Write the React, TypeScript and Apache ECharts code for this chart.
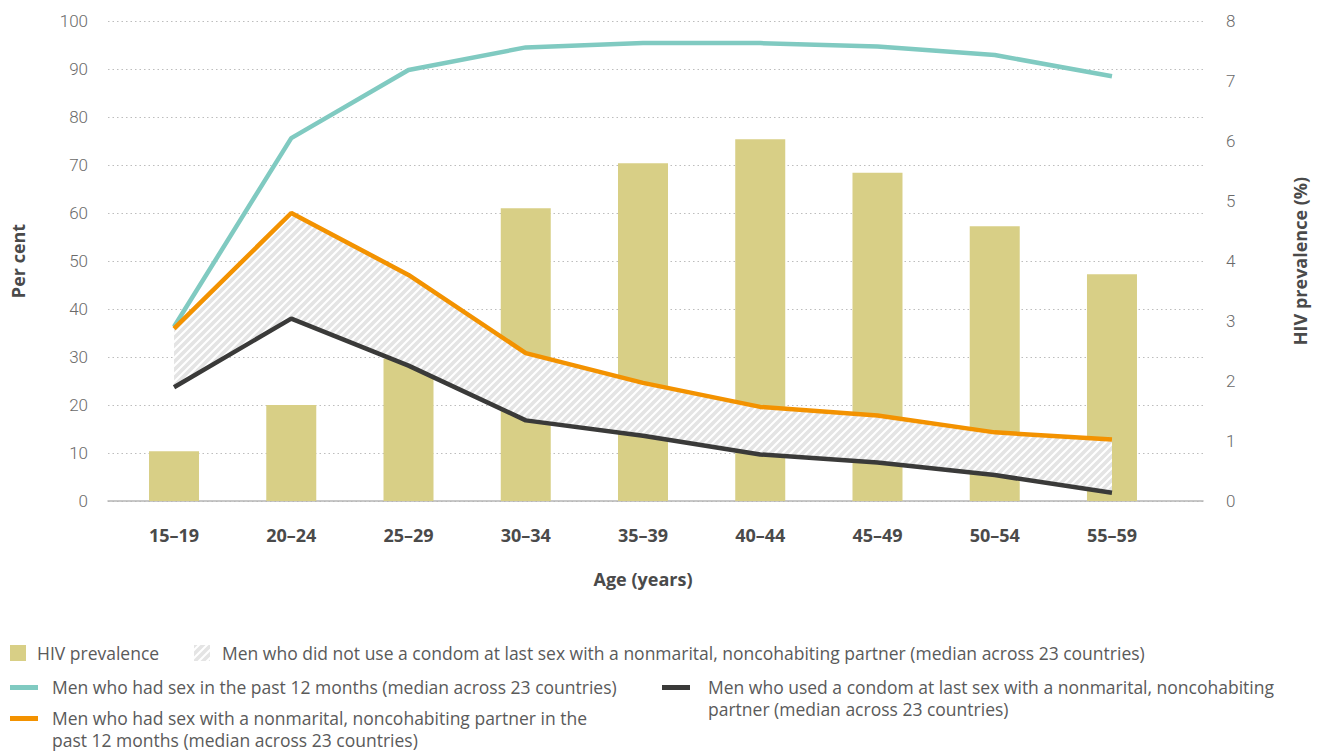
import React, { useEffect, useRef } from "react";
import * as echarts from "echarts";

const categories = ["15–19", "20–24", "25–29", "30–34", "35–39", "40–44", "45–49", "50–54", "55–59"];
const hivPrevalence = [0.83, 1.6, 2.37, 4.88, 5.63, 6.03, 5.47, 4.58, 3.78];
const hadSex = [36.3, 75.6, 89.8, 94.5, 95.4, 95.4, 94.7, 92.9, 88.5];
const hadNonmarital = [35.9, 60.0, 47.1, 30.8, 24.6, 19.6, 17.8, 14.3, 12.8];
const usedCondom = [23.7, 38.0, 28.2, 16.8, 13.6, 9.7, 8.0, 5.4, 1.7];
const leftTicks = [0, 100, 10];
const rightTicks = [0, 8, 1];

const FONT = "Roboto, 'Noto Sans', sans-serif";
const LFONT = "'Open Sans', Roboto, sans-serif";
const TEAL = "#80cac1";
const ORANGE = "#f39200";
const DARK = "#3a3a39";
const BAR = "#d8cf86";
const TXT = "#5a5a5a";
const TITLE = { fontSize: 18, fontWeight: "bold", color: "#4a4a4a", fontFamily: LFONT };

function makeHatch() {
  const c = document.createElement("canvas");
  c.width = 8;
  c.height = 8;
  const ctx = c.getContext("2d")!;
  ctx.fillStyle = "#ffffff";
  ctx.fillRect(0, 0, 8, 8);
  ctx.strokeStyle = "#e4e4e4";
  ctx.lineWidth = 3.6;
  ctx.lineCap = "square";
  for (const o of [-8, 0, 8]) {
    ctx.beginPath();
    ctx.moveTo(o, 8);
    ctx.lineTo(o + 8, 0);
    ctx.stroke();
  }
  return c;
}

export default function App() {
  const ref = useRef<HTMLDivElement>(null);
  useEffect(() => {
    if (!ref.current) return;
    const chart = echarts.init(ref.current, null, { renderer: "svg" });
    const hatch = { image: makeHatch(), repeat: "repeat" } as any;
    const bandDiff = hadNonmarital.map((v, i) => +(v - usedCondom[i]).toFixed(2));
    const legendFont = { fontFamily: LFONT, fontSize: 17.5, fill: TXT };

    const option: any = {
      animation: false,
      backgroundColor: "#ffffff",
      textStyle: { fontFamily: FONT },
      grid: [
        { left: 108, right: 117, top: 21, bottom: 250 },
        { left: 115.4, right: 149.4, top: 21, bottom: 250 },
      ],
      xAxis: [
        {
          type: "category",
          gridIndex: 0,
          data: categories,
          axisLine: { show: true, lineStyle: { color: "#b5b5b5", width: 1.5 } },
          axisTick: { show: false },
          axisLabel: { show: false },
          splitLine: { show: false },
        },
        {
          type: "category",
          gridIndex: 1,
          data: categories,
          axisLine: { show: false },
          axisTick: { show: false },
          axisLabel: { margin: 25, ...TITLE },
          name: "Age (years)",
          nameLocation: "middle",
          nameGap: 69,
          nameTextStyle: TITLE,
        },
      ],
      yAxis: [
        {
          type: "value",
          gridIndex: 0,
          position: "left",
          min: leftTicks[0],
          max: leftTicks[1],
          interval: leftTicks[2],
          axisLine: { show: false },
          axisTick: { show: false },
          axisLabel: { margin: 20, fontSize: 17, color: "#6a6a6a", fontFamily: FONT, fontWeight: 300 },
          splitLine: { show: true, lineStyle: { color: "#bdbdbd", type: [1.5, 3], width: 1 } },
          name: "Per cent",
          nameLocation: "middle",
          nameGap: 81,
          nameRotate: 90,
          nameTextStyle: TITLE,
        },
        {
          type: "value",
          gridIndex: 0,
          position: "right",
          min: rightTicks[0],
          max: rightTicks[1],
          interval: rightTicks[2],
          axisLine: { show: false },
          axisTick: { show: false },
          axisLabel: { margin: 23, fontSize: 17, color: "#6a6a6a", fontFamily: FONT, fontWeight: 300 },
          splitLine: { show: false },
          name: "HIV prevalence (%)",
          nameLocation: "middle",
          nameGap: 88,
          nameRotate: 90,
          nameTextStyle: TITLE,
        },
        {
          type: "value",
          gridIndex: 1,
          min: leftTicks[0],
          max: leftTicks[1],
          interval: leftTicks[2],
          show: false,
          splitLine: { show: false },
        },
        {
          type: "value",
          gridIndex: 1,
          min: rightTicks[0],
          max: rightTicks[1],
          interval: rightTicks[2],
          show: false,
          splitLine: { show: false },
        },
      ],
      series: [
        {
          name: "HIV prevalence",
          type: "bar",
          xAxisIndex: 1,
          yAxisIndex: 3,
          data: hivPrevalence,
          barWidth: 50,
          itemStyle: { color: BAR },
          z: 1,
        },
        {
          name: "base",
          type: "line",
          xAxisIndex: 1,
          yAxisIndex: 2,
          stack: "band",
          data: usedCondom,
          symbol: "none",
          lineStyle: { width: 0, opacity: 0 },
          silent: true,
          z: 2,
        },
        {
          name: "Men who did not use a condom at last sex with a nonmarital, noncohabiting partner (median across 23 countries)",
          type: "line",
          xAxisIndex: 1,
          yAxisIndex: 2,
          stack: "band",
          data: bandDiff,
          symbol: "none",
          lineStyle: { width: 0, opacity: 0 },
          areaStyle: { color: hatch, opacity: 1 },
          itemStyle: { color: hatch },
          silent: true,
          z: 2,
        },
        {
          name: "Men who had sex in the past 12 months (median across 23 countries)",
          type: "line",
          xAxisIndex: 1,
          yAxisIndex: 2,
          data: hadSex,
          symbol: "none",
          lineStyle: { color: TEAL, width: 4.5 },
          itemStyle: { color: TEAL },
          z: 3,
        },
        {
          name: "Men who had sex with a nonmarital, noncohabiting partner in the past 12 months (median across 23 countries)",
          type: "line",
          xAxisIndex: 1,
          yAxisIndex: 2,
          data: hadNonmarital,
          symbol: "none",
          lineStyle: { color: ORANGE, width: 4.5 },
          itemStyle: { color: ORANGE },
          z: 4,
        },
        {
          name: "Men who used a condom at last sex with a nonmarital, noncohabiting partner (median across 23 countries)",
          type: "line",
          xAxisIndex: 1,
          yAxisIndex: 2,
          data: usedCondom,
          symbol: "none",
          lineStyle: { color: DARK, width: 4.5 },
          itemStyle: { color: DARK },
          z: 4,
        },
      ],
      graphic: [
        { type: "rect", shape: { x: 10, y: 645, width: 16, height: 16 }, style: { fill: BAR } },
        { type: "text", x: 37, y: 653, style: { ...legendFont, text: "HIV prevalence", verticalAlign: "middle" } },
        { type: "rect", shape: { x: 194, y: 645, width: 16, height: 16 }, style: { fill: hatch } },
        {
          type: "text",
          x: 222,
          y: 653,
          style: {
            ...legendFont,
            text: "Men who did not use a condom at last sex with a nonmarital, noncohabiting partner (median across 23 countries)",
            verticalAlign: "middle",
          },
        },
        { type: "rect", shape: { x: 10, y: 685, width: 28, height: 5 }, style: { fill: TEAL } },
        {
          type: "text",
          x: 52,
          y: 687,
          style: { ...legendFont, text: "Men who had sex in the past 12 months (median across 23 countries)", verticalAlign: "middle" },
        },
        { type: "rect", shape: { x: 662, y: 685, width: 28, height: 5 }, style: { fill: DARK } },
        {
          type: "text",
          x: 708,
          y: 676,
          style: {
            ...legendFont,
            text: "Men who used a condom at last sex with a nonmarital, noncohabiting\npartner (median across 23 countries)",
            verticalAlign: "top",
            lineHeight: 22,
          },
        },
        { type: "rect", shape: { x: 10, y: 716, width: 28, height: 5 }, style: { fill: ORANGE } },
        {
          type: "text",
          x: 52,
          y: 707,
          style: {
            ...legendFont,
            text: "Men who had sex with a nonmarital, noncohabiting partner in the\npast 12 months (median across 23 countries)",
            verticalAlign: "top",
            lineHeight: 22,
          },
        },
      ],
    };
    chart.setOption(option);
    return () => chart.dispose();
  }, []);
  return (
    <div
      ref={ref}
      style={{ position: "fixed", left: 0, top: 0, width: 1320, height: 751, background: "#fff" }}
    />
  );
}
